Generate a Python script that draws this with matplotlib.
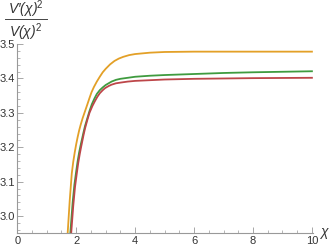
import matplotlib
matplotlib.use("Agg")
import matplotlib.pyplot as plt
from matplotlib.lines import Line2D
from matplotlib.ticker import MultipleLocator

plt.rcParams["font.family"] = ["Liberation Sans", "DejaVu Sans"]
plt.rcParams["mathtext.fontset"] = "custom"
plt.rcParams["mathtext.rm"] = "Liberation Sans"
plt.rcParams["mathtext.it"] = "Liberation Sans:italic"

# values
orange_x = [1.68, 1.71, 1.78, 1.85, 1.9, 1.95, 2.0, 2.05, 2.1, 2.15, 2.22, 2.3, 2.38, 2.45, 2.52, 2.6, 2.7, 2.8, 2.9, 3.0, 3.15, 3.3, 3.45, 3.6, 3.8, 4.0, 4.5, 5.0, 6.0, 8.0, 10.0]
orange_y = [2.90, 2.95, 3.045, 3.124, 3.158, 3.185, 3.209, 3.23, 3.249, 3.265, 3.285, 3.305, 3.325, 3.343, 3.36, 3.375, 3.391, 3.405, 3.418, 3.428, 3.441, 3.451, 3.458, 3.463, 3.468, 3.471, 3.475, 3.477, 3.478, 3.478, 3.478]

green_x = [1.77, 1.80, 1.88, 1.94, 2.0, 2.05, 2.1, 2.15, 2.2, 2.25, 2.3, 2.38, 2.45, 2.53, 2.62, 2.7, 2.8, 2.9, 3.0, 3.1, 3.2, 3.35, 3.5, 3.75, 4.0, 4.5, 5.0, 6.0, 7.0, 8.0, 10.0]
green_y = [2.90, 2.95, 3.04, 3.092, 3.13, 3.16, 3.185, 3.206, 3.225, 3.244, 3.262, 3.285, 3.305, 3.325, 3.342, 3.355, 3.366, 3.374, 3.381, 3.386, 3.391, 3.396, 3.399, 3.402, 3.405, 3.408, 3.410, 3.413, 3.416, 3.418, 3.421]

red_x = [1.80, 1.83, 1.9, 1.96, 2.02, 2.07, 2.12, 2.16, 2.2, 2.25, 2.3, 2.38, 2.45, 2.55, 2.64, 2.72, 2.8, 2.9, 2.98, 3.1, 3.2, 3.35, 3.5, 3.75, 4.0, 4.5, 5.0, 6.0, 8.0, 10.0]
red_y = [2.90, 2.95, 3.03, 3.085, 3.124, 3.155, 3.18, 3.198, 3.215, 3.236, 3.255, 3.28, 3.30, 3.32, 3.335, 3.347, 3.357, 3.366, 3.372, 3.378, 3.382, 3.386, 3.388, 3.391, 3.393, 3.395, 3.397, 3.399, 3.401, 3.402]

x_ticks = [0, 2, 4, 6, 8, 10]
y_ticks = [3.0, 3.1, 3.2, 3.3, 3.4, 3.5]

fig = plt.figure(figsize=(3.32, 2.49), dpi=100)
ax = fig.add_axes([0.052, 0.063, 0.892, 0.760])

ax.plot(orange_x, orange_y, color="#e3a027", lw=1.3)
ax.plot(green_x, green_y, color="#3f9b3f", lw=1.3)
ax.plot(red_x, red_y, color="#bd4649", lw=1.3)

ax.set_xlim(0, 10.05)
ax.set_ylim(2.95, 3.5)
ax.set_xticks(x_ticks)
ax.set_yticks(y_ticks)
ax.set_yticklabels([f"{v:.1f}" for v in y_ticks])
ax.xaxis.set_minor_locator(MultipleLocator(0.5))
ax.yaxis.set_minor_locator(MultipleLocator(0.02))

for s in ["top", "right"]:
    ax.spines[s].set_visible(False)
for s in ["left", "bottom"]:
    ax.spines[s].set_color("#999999")
    ax.spines[s].set_linewidth(0.8)

ax.tick_params(which="both", direction="in", colors="#999999", labelcolor="#333333", labelsize=8, pad=2)
ax.tick_params(axis="y", pad=1.5)
ax.tick_params(which="major", length=4, width=0.6)
ax.tick_params(which="minor", length=2, width=0.5)

ax.annotate(r"$\chi$", xy=(1.0, 0.0), xycoords="axes fraction", xytext=(4, 0),
            textcoords="offset points", fontsize=10, color="#333333", va="center", ha="left")

# y label as a stacked fraction
fig.text(0.078, 0.962, "V\u2032(\u03c7)$^{2}$", fontsize=10, style="italic", color="#333333",
         ha="center", va="center")
fig.add_artist(Line2D([0.015, 0.142], [0.922, 0.922], transform=fig.transFigure,
                      color="#444444", lw=0.7))
fig.text(0.078, 0.870, "V(\u03c7)$^{2}$", fontsize=10, style="italic", color="#333333",
         ha="center", va="center")

fig.savefig("out.png", dpi=100)
